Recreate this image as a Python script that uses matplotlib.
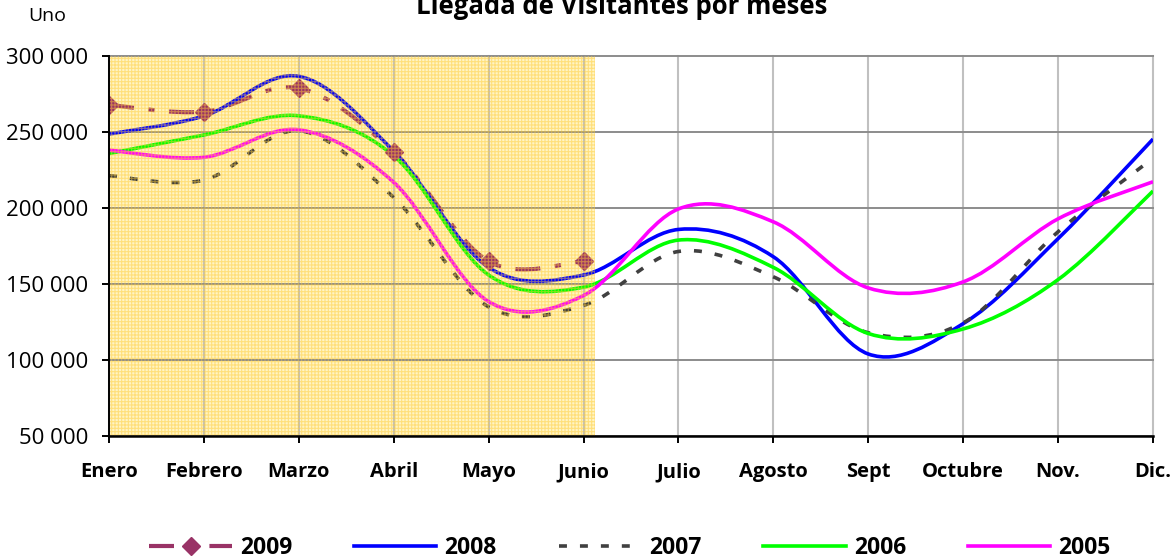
import numpy as np
import matplotlib
matplotlib.use("Agg")
import matplotlib.pyplot as plt
from matplotlib.path import Path
from matplotlib.patches import PathPatch
from matplotlib.lines import Line2D

plt.rcParams["font.family"] = ["Open Sans", "DejaVu Sans"]
plt.rcParams["hatch.linewidth"] = 0.8

# ── Data ──────────────────────────────────────────────────────────────────────
months = ["Enero", "Febrero", "Marzo", "Abril", "Mayo", "Junio", "Julio",
          "Agosto", "Sept", "Octubre", "Nov.", "Dic."]

v2009 = [268000, 263500, 279000, 237000, 165000, 165000]
v2008 = [248800, 260700, 286800, 237500, 161000, 156000, 186000, 168000,
         104000, 124000, 180000, 245500]
v2007 = [221400, 218500, 251000, 207000, 135000, 136000, 171500, 154800,
         118000, 124500, 184500, 232800]
v2006 = [236000, 248200, 260800, 234500, 156000, 148000, 179000, 161000,
         117500, 120500, 153000, 211300]
v2005 = [238200, 233500, 251600, 217000, 138500, 142500, 199500, 191000,
         147500, 151500, 193000, 217400]

yticks = [50000, 100000, 150000, 200000, 250000, 300000]
shade_end = 5.12   # yellow band: Enero .. just past Junio


def smooth_path(y):
    """Excel-style smoothed line as cubic Bezier segments through the points."""
    x = np.arange(len(y), dtype=float)
    p = np.column_stack([x, np.asarray(y, dtype=float)])
    pad = np.vstack([p[0], p, p[-1]])
    verts = [p[0]]
    codes = [Path.MOVETO]
    for i in range(len(p) - 1):
        p0, p1, p2, p3 = pad[i], pad[i + 1], pad[i + 2], pad[i + 3]
        c1 = p1 + (p2 - p0) / 6.0
        c2 = p2 - (p3 - p1) / 6.0
        verts += [c1, c2, p2]
        codes += [Path.CURVE4] * 3
    return Path(verts, codes)


series = [
    ("2009", v2009, dict(color="#993366", lw=3.0, ls=(0, (6, 3.5, 1.5, 3.5)))),
    ("2008", v2008, dict(color="#0000FF", lw=2.6, ls="-")),
    ("2007", v2007, dict(color="#404040", lw=2.6, ls=(0, (2.2, 3.6)))),
    ("2006", v2006, dict(color="#00FF00", lw=2.6, ls="-")),
    ("2005", v2005, dict(color="#FF00FF", lw=2.6, ls="-")),
]

# ── Figure ────────────────────────────────────────────────────────────────────
fig = plt.figure(figsize=(11.75, 5.59), dpi=100)
ax = fig.add_axes([0.0928, 0.22, 0.9813 - 0.0928, 0.8993 - 0.22])

ax.set_xlim(0, len(months) - 1)
ax.set_ylim(50000, 300000)

# yellow band (base colour under everything, fine hatch over the lines)
ax.axvspan(0, shade_end, facecolor="#FFF4C4", edgecolor="none", zorder=0.2)
ax.axvspan(0, shade_end, facecolor="none", edgecolor=(1.0, 0.80, 0.20, 0.5),
           hatch="+++++", lw=0, zorder=3.5)

for name, vals, st in series:
    patch = PathPatch(smooth_path(vals), fill=False, edgecolor=st["color"],
                      lw=st["lw"], linestyle=st["ls"], capstyle="butt",
                      joinstyle="round", zorder=3)
    ax.add_patch(patch)

ax.plot(range(len(v2009)), v2009, ls="none", marker="D", ms=9,
        color="#993366", mec="#993366", zorder=3.2)

# grid
ax.set_yticks(yticks)
ax.set_yticklabels([f"{v:,}".replace(",", " ") for v in yticks])
ax.set_xticks(range(len(months)))
ax.set_xticklabels(months, fontweight="bold", fontsize=14.5)
ax.yaxis.grid(True, color="#8C8C8C", lw=1.4, zorder=1)
ax.xaxis.grid(True, color="#C0C0C0", lw=1.5, zorder=1)
ax.set_axisbelow(True)
for gl in ax.get_xgridlines() + ax.get_ygridlines():
    gl.set_clip_on(False)

ax.spines["top"].set_visible(False)
ax.spines["right"].set_visible(False)
ax.spines["left"].set_linewidth(1.4)
ax.spines["bottom"].set_linewidth(1.8)
ax.spines["left"].set_zorder(5)
ax.spines["bottom"].set_zorder(5)

ax.tick_params(axis="y", direction="out", length=5, width=1.4,
               labelsize=16, pad=10)
ax.tick_params(axis="x", direction="out", length=5, width=1.4, pad=14)

fig.text(28 / 1175, 1 - 16 / 559, "Uno", fontsize=14, ha="left", va="center")
fig.text(622 / 1175, 1 - 14 / 559, "Llegada de Visitantes por meses",
         fontsize=18.5, fontweight="bold", ha="center", va="baseline")

handles = [
    Line2D([], [], color="#993366", lw=3.0, ls=(0, (6, 3.5, 1.5, 3.5)),
           marker="D", ms=9, dash_capstyle="butt"),
    Line2D([], [], color="#0000FF", lw=2.6),
    Line2D([], [], color="#404040", lw=2.6, ls=(0, (2.2, 3.6)),
           dash_capstyle="butt"),
    Line2D([], [], color="#00FF00", lw=2.6),
    Line2D([], [], color="#FF00FF", lw=2.6),
]
fig.legend(handles, [s[0] for s in series], loc="center", ncol=5,
           bbox_to_anchor=(630 / 1175, 1 - 548 / 559), frameon=False,
           prop=dict(weight="bold", size=16.5), handlelength=3.6,
           handletextpad=0.35, columnspacing=2.7, numpoints=1)

fig.savefig("out.png", dpi=100)
